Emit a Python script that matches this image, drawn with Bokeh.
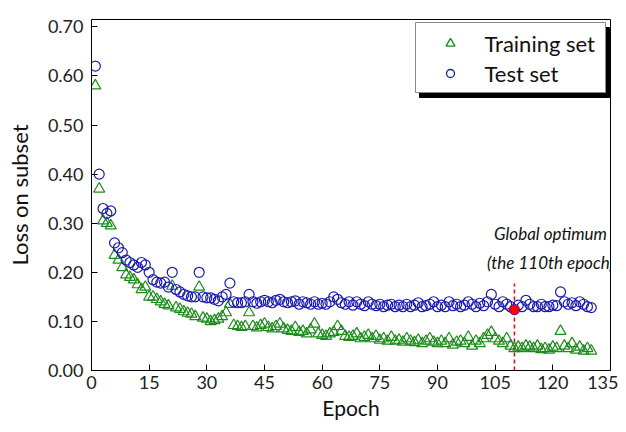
from bokeh.plotting import figure
from bokeh.models import Range1d, FixedTicker, NumeralTickFormatter, ColumnDataSource, Label
from bokeh.core.properties import value
from bokeh.embed import file_html
from bokeh.resources import INLINE

epochs = list(range(1, 131))
test_loss = [
    0.62, 0.40, 0.33, 0.32, 0.325, 0.26, 0.25, 0.24, 0.225, 0.22,
    0.215, 0.21, 0.22, 0.215, 0.20, 0.185, 0.18, 0.178, 0.18, 0.17,
    0.20, 0.165, 0.16, 0.155, 0.152, 0.15, 0.15, 0.20, 0.15, 0.148,
    0.148, 0.145, 0.142, 0.15, 0.155, 0.178, 0.14, 0.138, 0.138, 0.14,
    0.155, 0.14, 0.137, 0.14, 0.143, 0.14, 0.138, 0.143, 0.145, 0.14,
    0.138, 0.14, 0.142, 0.135, 0.14, 0.138, 0.135, 0.14, 0.135, 0.137,
    0.135, 0.14, 0.15, 0.145, 0.138, 0.135, 0.14, 0.133, 0.14, 0.135,
    0.132, 0.14, 0.135, 0.132, 0.135, 0.13, 0.133, 0.135, 0.13, 0.133,
    0.13, 0.135, 0.13, 0.133, 0.138, 0.13, 0.132, 0.135, 0.14, 0.13,
    0.133, 0.13, 0.14, 0.132, 0.135, 0.13, 0.133, 0.14, 0.135, 0.13,
    0.137, 0.132, 0.14, 0.155, 0.135, 0.13, 0.14, 0.135, 0.13, 0.124,
    0.133, 0.13, 0.143, 0.135, 0.13, 0.13, 0.135, 0.13, 0.13, 0.133,
    0.132, 0.16, 0.14, 0.135, 0.138, 0.132, 0.14, 0.135, 0.13, 0.128,
]
train_loss = [
    0.58, 0.37, 0.305, 0.30, 0.295, 0.235, 0.225, 0.21, 0.195, 0.19,
    0.185, 0.175, 0.165, 0.17, 0.15, 0.15, 0.145, 0.14, 0.135, 0.132,
    0.172, 0.128, 0.125, 0.12, 0.117, 0.115, 0.11, 0.17, 0.107, 0.105,
    0.10, 0.102, 0.105, 0.11, 0.118, 0.135, 0.092, 0.09, 0.088, 0.09,
    0.118, 0.09, 0.087, 0.092, 0.095, 0.088, 0.085, 0.09, 0.095, 0.085,
    0.082, 0.08, 0.088, 0.078, 0.08, 0.075, 0.083, 0.095, 0.075, 0.072,
    0.07, 0.075, 0.078, 0.09, 0.08, 0.07, 0.068, 0.07, 0.075, 0.065,
    0.068, 0.072, 0.065, 0.07, 0.062, 0.065, 0.06, 0.068, 0.06, 0.062,
    0.058, 0.065, 0.06, 0.057, 0.062, 0.055, 0.06, 0.065, 0.058, 0.055,
    0.06, 0.055, 0.065, 0.052, 0.058, 0.06, 0.055, 0.068, 0.05, 0.06,
    0.055, 0.065, 0.072, 0.078, 0.065, 0.06, 0.055, 0.065, 0.05, 0.045,
    0.048, 0.045, 0.05, 0.048, 0.045, 0.05, 0.043, 0.045, 0.042, 0.048,
    0.045, 0.08, 0.05, 0.045, 0.055, 0.042, 0.048, 0.04, 0.045, 0.04,
]
x_ticks = [0, 15, 30, 45, 60, 75, 90, 105, 120, 135]
y_ticks = [0.0, 0.1, 0.2, 0.3, 0.4, 0.5, 0.6, 0.7]
series_labels = ["Training set", "Test set"]
optimum_epoch = 110
note_lines = ["Global optimum", "(the 110th epoch)"]

FONT = "Lato"
GREEN = "#1a8c1a"
BLUE = "#1a1ab0"

# frame geometry (figure pixels)
W, H = 618, 424
FL, FR, FT, FB = 91, 610, 19, 370
X0, X1 = 0, 135
Y0, Y1 = 0.0, 0.715

def dx(px):  # figure px -> data x
    return X0 + (px - FL) * (X1 - X0) / (FR - FL)

def dy(py):  # figure px -> data y
    return Y0 + (FB - py) * (Y1 - Y0) / (FB - FT)

p = figure(width=W, height=H, output_backend="svg", toolbar_location=None,
           x_range=Range1d(X0, X1), y_range=Range1d(Y0, Y1),
           min_border_left=FL, min_border_right=W - FR,
           min_border_top=FT, min_border_bottom=H - FB)
p.grid.visible = False
p.outline_line_color = "black"
p.outline_line_width = 1
p.background_fill_color = "white"
p.border_fill_color = "white"

for ax in (p.xaxis[0], p.yaxis[0]):
    ax.major_tick_in = 6
    ax.major_tick_out = 0
    ax.minor_tick_line_color = None
    ax.axis_line_color = "black"
    ax.major_tick_line_color = "black"
    ax.major_label_text_font = FONT
    ax.major_label_text_font_size = "18px"
    ax.major_label_text_color = "#222222"
    ax.axis_label_text_font = FONT
    ax.axis_label_text_font_style = "normal"
    ax.axis_label_text_color = "#111111"

p.xaxis.axis_label_text_font_size = "21px"
p.yaxis.axis_label_text_font_size = "22px"
p.xaxis.ticker = FixedTicker(ticks=x_ticks)
p.yaxis.ticker = FixedTicker(ticks=y_ticks)
p.yaxis.formatter = NumeralTickFormatter(format="0.00")
p.xaxis.axis_label = "Epoch"
p.yaxis.axis_label = "Loss on subset"
p.xaxis.major_label_standoff = 5
p.yaxis.major_label_standoff = 8
p.xaxis.axis_label_standoff = 3
p.yaxis.axis_label_standoff = 12

src = ColumnDataSource(dict(epoch=epochs, train=train_loss, test=test_loss))

# dashed optimum line
opt_idx = epochs.index(optimum_epoch)
p.segment(x0=[optimum_epoch], y0=[0], x1=[optimum_epoch], y1=[dy(283)],
          line_color="red", line_width=1.5, line_dash="4 3")

p.scatter("epoch", "train", source=src, marker="triangle", size=11,
          line_color=GREEN, fill_color=None, line_width=1.2)
p.scatter("epoch", "test", source=src, marker="circle", size=10,
          line_color=BLUE, fill_color=None, line_width=1.2)
p.scatter(x=[optimum_epoch], y=[test_loss[opt_idx]], marker="circle", size=9,
          line_color="red", fill_color="red")

# annotation text
for txt, py in zip(note_lines, (233, 262)):
    p.add_layout(Label(x=dx(550), y=dy(py), text=txt,
                       text_font=FONT, text_font_size="17px", text_font_style="italic",
                       text_align="center", text_baseline="middle", text_color="#111111"))

# legend box with shadow
p.quad(left=[dx(419)], right=[dx(609)], top=[dy(27)], bottom=[dy(97)],
       fill_color="black", line_color="black")
p.quad(left=[dx(415)], right=[dx(605)], top=[dy(22)], bottom=[dy(92)],
       fill_color="white", line_color="#888888", line_width=1)
p.scatter(x=[dx(450)], y=[dy(43)], marker="triangle", size=9,
          line_color=GREEN, fill_color=None, line_width=1.3)
p.scatter(x=[dx(450)], y=[dy(73)], marker="circle", size=8,
          line_color=BLUE, fill_color=None, line_width=1.3)
p.text(x=[dx(484), dx(484)], y=[dy(43), dy(73)], text=series_labels,
       text_font=value(FONT), text_font_size="22px",
       text_align="left", text_baseline="middle", text_color="#111111")

open("out.html", "w").write(file_html(p, INLINE))
